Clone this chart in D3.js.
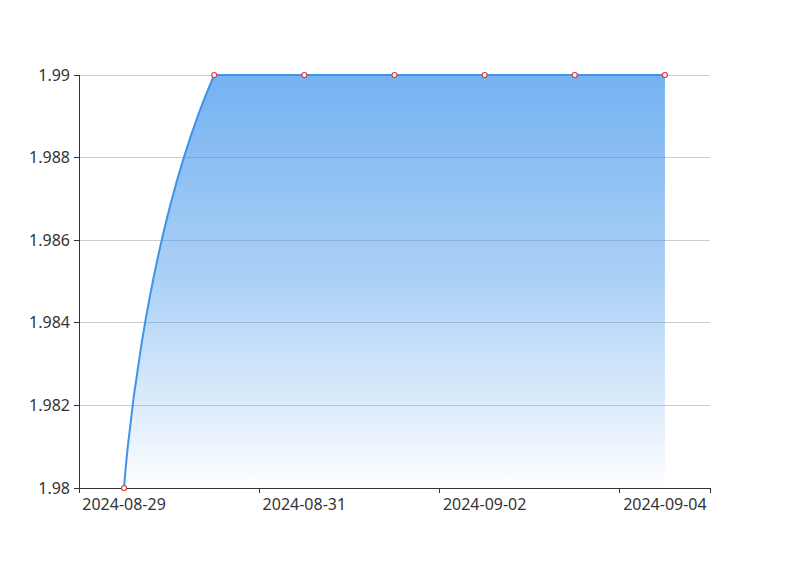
<!DOCTYPE html>
<html>
<head>
<meta charset="utf-8">
<script src="https://cdn.jsdelivr.net/npm/d3@7"></script>
<style>
  html, body { margin: 0; padding: 0; background: #fff; }
  svg { display: block; }
  text { font-family: "Noto Sans", "Open Sans", sans-serif; }
</style>
</head>
<body>
<svg id="chart" width="788" height="562"></svg>
<script>
(function () {
// ---- data ----
const categories = ["2024-08-29", "2024-08-30", "2024-08-31", "2024-09-01", "2024-09-02", "2024-09-03", "2024-09-04"];
const values = [1.98, 1.99, 1.99, 1.99, 1.99, 1.99, 1.99];
const yTicks = [1.98, 1.982, 1.984, 1.986, 1.988, 1.99];
const yTickLabels = ["1.98", "1.982", "1.984", "1.986", "1.988", "1.99"];
const xLabelEvery = 2;

// ---- layout ----
const gLeft = 79, gRight = 710, gTop = 75, gBottom = 488;

const svg = d3.select("#chart");

const x = d3.scaleBand().domain(categories).range([gLeft, gRight]).paddingInner(0).paddingOuter(0);
const cx = d => x(d) + x.bandwidth() / 2;
const y = d3.scaleLinear().domain([1.98, 1.99]).range([gBottom, gTop]);

// ---- ECharts-like smooth curve (smooth = 0.5, bbox constraint) ----
function EchartsSmooth(context) { this._context = context; this._smooth = 0.5; }
EchartsSmooth.prototype = {
  areaStart() { this._line = 0; },
  areaEnd() { this._line = NaN; },
  lineStart() { this._pts = []; },
  point(px, py) { this._pts.push([+px, +py]); },
  lineEnd() {
    const p = this._pts, n = p.length, c = this._context, s = this._smooth;
    if (n) {
      const minX = d3.min(p, d => d[0]), maxX = d3.max(p, d => d[0]);
      const minY = d3.min(p, d => d[1]), maxY = d3.max(p, d => d[1]);
      const clamp = q => [Math.max(minX, Math.min(maxX, q[0])), Math.max(minY, Math.min(maxY, q[1]))];
      if (this._line) c.lineTo(p[0][0], p[0][1]); else c.moveTo(p[0][0], p[0][1]);
      let cp0 = p[0].slice();
      for (let i = 1; i < n; i++) {
        const pt = p[i], prev = p[i - 1], next = p[i + 1];
        let cp1, ratio = 0.5, v = [0, 0];
        if (!next) {
          cp1 = pt.slice();
        } else {
          v = [next[0] - prev[0], next[1] - prev[1]];
          const lp = Math.hypot(pt[0] - prev[0], pt[1] - prev[1]);
          const ln = Math.hypot(next[0] - pt[0], next[1] - pt[1]);
          ratio = (ln + lp) > 0 ? ln / (ln + lp) : 0.5;
          cp1 = [pt[0] - v[0] * s * (1 - ratio), pt[1] - v[1] * s * (1 - ratio)];
        }
        const a = clamp(cp0), b = clamp(cp1);
        c.bezierCurveTo(a[0], a[1], b[0], b[1], pt[0], pt[1]);
        cp0 = [pt[0] + v[0] * s * ratio, pt[1] + v[1] * s * ratio];
      }
    }
    if (this._line || (this._line !== 0 && n === 1)) c.closePath();
    this._line = 1 - this._line;
  }
};
const curveEcharts = ctx => new EchartsSmooth(ctx);

// ---- gradient ----
const defs = svg.append("defs");
const grad = defs.append("linearGradient").attr("id", "areaGrad")
  .attr("gradientUnits", "userSpaceOnUse")
  .attr("x1", 0).attr("y1", y(1.99)).attr("x2", 0).attr("y2", y(1.98));
[[0, 0.7], [0.5, 0.42], [0.88, 0.11], [1, 0.0]].forEach(([o, a]) => {
  grad.append("stop").attr("offset", o).attr("stop-color", "rgb(58,145,235)").attr("stop-opacity", a);
});

// ---- grid lines ----
svg.append("g").selectAll("line").data(yTicks).join("line")
  .attr("x1", gLeft).attr("x2", gRight)
  .attr("y1", d => y(d)).attr("y2", d => y(d))
  .attr("stroke", "#ccc").attr("stroke-width", 1)
  .attr("shape-rendering", "crispEdges");

// ---- area ----
const pts = categories.map((c, i) => ({ c, v: values[i] }));
const area = d3.area().x(d => cx(d.c)).y0(y(1.98)).y1(d => y(d.v)).curve(curveEcharts);
const line = d3.line().x(d => cx(d.c)).y(d => y(d.v)).curve(curveEcharts);

svg.append("path").datum(pts).attr("d", area).attr("fill", "url(#areaGrad)");

// ---- axes ----
const gy = svg.append("g").attr("transform", `translate(${gLeft},0)`);
gy.append("line").attr("x1", 0).attr("x2", 0).attr("y1", gTop).attr("y2", gBottom)
  .attr("stroke", "#333").attr("shape-rendering", "crispEdges");
gy.selectAll("line.tick").data(yTicks).join("line").attr("class", "tick")
  .attr("x1", -5).attr("x2", 0).attr("y1", d => y(d)).attr("y2", d => y(d))
  .attr("stroke", "#333").attr("shape-rendering", "crispEdges");
gy.selectAll("text").data(yTicks).join("text")
  .attr("x", -9).attr("y", d => y(d)).attr("dy", "0.35em")
  .attr("text-anchor", "end").attr("font-size", 16).attr("fill", "#333")
  .text((d, i) => yTickLabels[i]);

const gx = svg.append("g").attr("transform", `translate(0,${gBottom})`);
gx.append("line").attr("x1", gLeft).attr("x2", gRight).attr("y1", 0).attr("y2", 0)
  .attr("stroke", "#333").attr("shape-rendering", "crispEdges");
const tickCats = categories.filter((d, i) => i % xLabelEvery === 0);
const tickPos = tickCats.map(d => x(d)).concat([x.range()[1]]);
gx.selectAll("line.tick").data(tickPos).join("line").attr("class", "tick")
  .attr("x1", d => d).attr("x2", d => d).attr("y1", 0).attr("y2", 5)
  .attr("stroke", "#333").attr("shape-rendering", "crispEdges");
gx.selectAll("text").data(tickCats).join("text")
  .attr("x", d => cx(d)).attr("y", 21.5)
  .attr("text-anchor", "middle").attr("font-size", 16).attr("fill", "#333")
  .text(d => d);

// ---- line + markers ----
svg.append("path").datum(pts).attr("d", line)
  .attr("fill", "none").attr("stroke", "#3e94e8").attr("stroke-width", 2);

svg.append("g").selectAll("circle").data(pts).join("circle")
  .attr("cx", d => cx(d.c)).attr("cy", d => y(d.v)).attr("r", 2.5)
  .attr("fill", "#fff").attr("stroke", "#e03a3a").attr("stroke-width", 1.2);
})();
</script>
</body>
</html>
